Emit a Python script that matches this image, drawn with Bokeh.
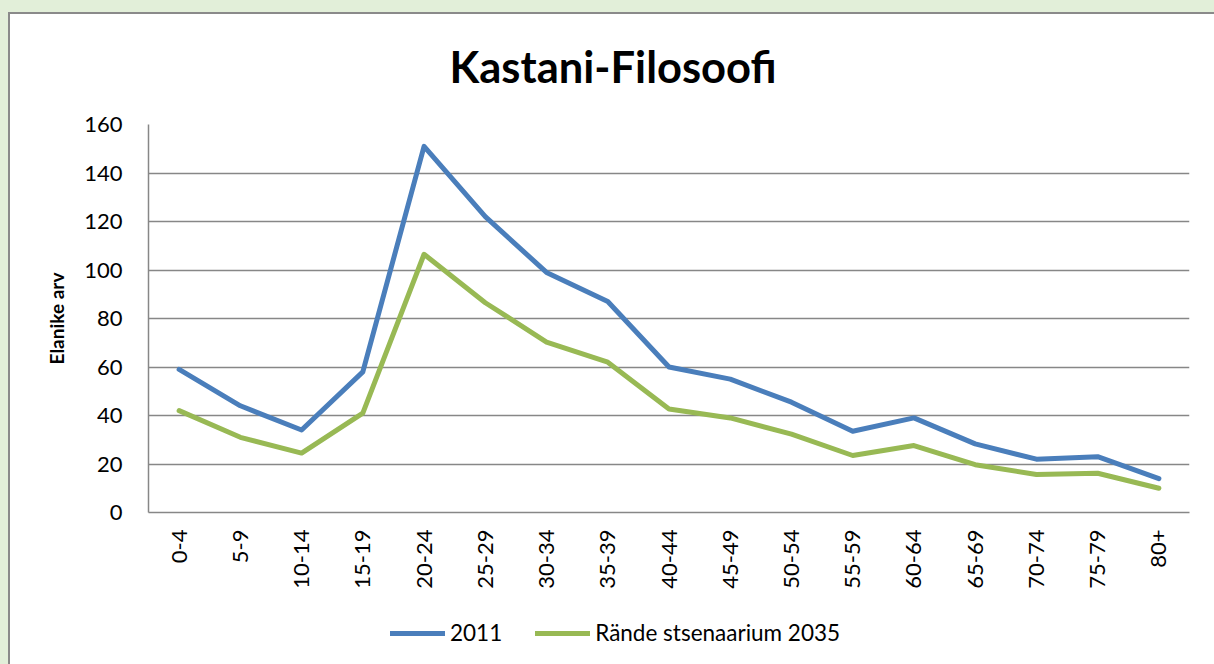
import math
import numpy as np
from bokeh.plotting import figure
from bokeh.layouts import column
from bokeh.models import Legend, LegendItem, FactorRange, Range1d, FixedTicker, Title
from bokeh.embed import file_html
from bokeh.resources import INLINE

# ---- data ----
age_groups = ["0-4", "5-9", "10-14", "15-19", "20-24", "25-29", "30-34", "35-39",
              "40-44", "45-49", "50-54", "55-59", "60-64", "65-69", "70-74", "75-79", "80+"]
pop_2011 = [59, 44, 34, 58, 151, 122, 99, 87, 60, 55, 45.5, 33.5, 39, 28.3, 22, 23, 14]
pop_2035 = [42, 31, 24.5, 41, 106.5, 86.5, 70.3, 62, 42.7, 39, 32.3, 23.5, 27.6, 19.7, 15.7, 16.2, 10]
y_ticks = [0, 20, 40, 60, 80, 100, 120, 140, 160]
series_names = ["2011", "Rände stsenaarium 2035"]

title_text = "Kastani-Filosoofi"
y_label = "Elanike arv"

BLUE = "#4a7ebb"
GREEN = "#98b954"
GRID = "#878787"
FONT = "Lato"
FRAME_BG = ("linear-gradient(#8a8a8a,#8a8a8a) 8px 12px / 100% 2px no-repeat, "
            "linear-gradient(#8a8a8a,#8a8a8a) 8px 12px / 2px 100% no-repeat, "
            "linear-gradient(#ffffff,#ffffff) 8px 12px / 100% 100% no-repeat, "
            "#e2efd9")
LEGEND_BG = ("linear-gradient(#8a8a8a,#8a8a8a) 8px 0px / 2px 100% no-repeat, "
             "linear-gradient(#ffffff,#ffffff) 8px 0px / 100% 100% no-repeat, "
             "#e2efd9")

p = figure(
    x_range=FactorRange(*age_groups),
    y_range=Range1d(0, 160),
    width=1214, height=600,
    output_backend="svg", toolbar_location=None,
    min_border_left=148, min_border_right=25,
    min_border_top=124, min_border_bottom=88,
    background_fill_color="white", border_fill_alpha=0,
)
p.styles = {"background": FRAME_BG}
p.outline_line_color = None

p.title = Title(text=title_text, align="left", offset=301, standoff=65,
                text_font=FONT, text_font_style="bold", text_font_size="43.5px",
                text_color="black")

# y axis
p.yaxis.ticker = FixedTicker(ticks=y_ticks)
p.yaxis.major_tick_out = 0
p.yaxis.major_tick_in = 0
p.yaxis.minor_tick_out = 0
p.yaxis.minor_tick_in = 0
p.yaxis.axis_line_color = GRID
p.yaxis.axis_line_width = 1.5
p.yaxis.major_label_standoff = 26
p.yaxis.major_label_text_font = FONT
p.yaxis.major_label_text_font_size = "22px"
p.yaxis.major_label_text_color = "black"
p.yaxis.axis_label = y_label
p.yaxis.axis_label_text_font = FONT
p.yaxis.axis_label_text_font_style = "bold"
p.yaxis.axis_label_text_font_size = "19px"
p.yaxis.axis_label_text_color = "black"
p.yaxis.axis_label_standoff = 13

# x axis
p.xaxis.major_tick_out = 0
p.xaxis.major_tick_in = 0
p.xaxis.axis_line_color = GRID
p.xaxis.axis_line_width = 1.5
p.xaxis.major_label_orientation = math.pi / 2
p.xaxis.major_label_standoff = 17
p.xaxis.major_label_text_font = FONT
p.xaxis.major_label_text_font_size = "22px"
p.xaxis.major_label_text_color = "black"

p.xgrid.grid_line_color = None
p.ygrid.grid_line_color = GRID
p.ygrid.grid_line_width = 1.5

r1 = p.line(age_groups, pop_2011, line_width=5, color=BLUE, line_cap="round", line_join="round")
r2 = p.line(age_groups, pop_2035, line_width=5, color=GREEN, line_cap="round", line_join="round")

# ---- legend strip below the chart ----
pl = figure(
    width=1214, height=64,
    x_range=Range1d(0, 1), y_range=Range1d(0, 1),
    x_axis_location=None, y_axis_location=None,
    output_backend="svg", toolbar_location=None,
    min_border=0, min_border_left=0, min_border_right=0,
    min_border_top=0, min_border_bottom=0,
    background_fill_alpha=0, border_fill_alpha=0,
)
pl.styles = {"background": LEGEND_BG}
pl.outline_line_color = None
pl.grid.visible = False
empty = np.array([np.nan, np.nan])
k1 = pl.line(empty, empty, line_width=5, color=BLUE, line_cap="round")
k2 = pl.line(empty, empty, line_width=5, color=GREEN, line_cap="round")

legend = Legend(
    items=[LegendItem(label=series_names[0], renderers=[k1]),
           LegendItem(label=series_names[1], renderers=[k2])],
    orientation="horizontal", location=(242, 18),
    glyph_width=55, glyph_height=20, label_standoff=5, spacing=33,
    label_text_font=FONT, label_text_font_size="22.5px", label_text_color="black",
    border_line_color=None, background_fill_alpha=0, margin=0, padding=0,
)
pl.add_layout(legend, "center")

layout = column(p, pl, spacing=0)
open("out.html", "w").write(file_html(layout, INLINE))
